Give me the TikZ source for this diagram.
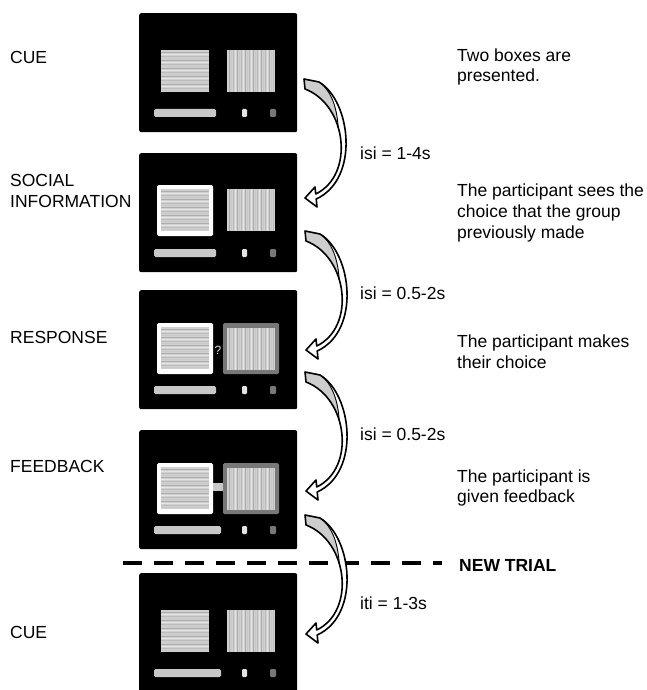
\documentclass[tikz,border=0pt]{standalone}
\usepackage{fontspec}
\setmainfont{Liberation Sans}
\usepackage{tikz}
\usetikzlibrary{positioning, calc}

\definecolor{patchBase}{RGB}{208,208,208}
\definecolor{stripe0}{RGB}{172,172,172}
\definecolor{stripe1}{RGB}{228,228,228}
\definecolor{stripe2}{RGB}{188,188,188}
\definecolor{stripe3}{RGB}{200,200,200}
\definecolor{barGray}{RGB}{200,200,200}
\definecolor{frameGray}{RGB}{120,120,120}
\definecolor{tailGray}{RGB}{205,205,205}

% striped patches, top-left corner in screen coordinates
\newcommand{\horizpatch}[2]{%
  \fill[patchBase] (#1,#2) rectangle ++(48,42);
  \foreach \k in {1,...,20}{%
    \pgfmathtruncatemacro{\g}{mod(\k*5+3,4)}%
    \draw[stripe\g, line width=0.8] (#1,#2+\k*2) -- ++(48,0);
  }%
}
\newcommand{\vertpatch}[2]{%
  \fill[patchBase] (#1,#2) rectangle ++(48,42);
  \foreach \k in {1,...,23}{%
    \pgfmathtruncatemacro{\g}{mod(\k*7+1,4)}%
    \draw[stripe\g, line width=0.8] (#1+\k*2,#2) -- ++(0,42);
  }%
}
% bar and two markers at the bottom of a screen
\newcommand{\screenbar}[1]{%
  \fill[barGray, rounded corners=1.5] (15,96) rectangle (#1,104);
  \fill[stripe1, rounded corners=1.2] (103,96) rectangle (108,104);
  \fill[frameGray, rounded corners=1.2] (131,96) rectangle (137,104);
}
% curved hollow arrow, tail at the origin
\newcommand{\arrowpath}{(0,0) -- (15,3) .. controls (47,22) and (56,100) .. (12.2,120)
  -- (13,128) -- (1,119) -- (11,108) -- (11.7,115)
  .. controls (51,96) and (43,26) .. (1,10) -- cycle}
\newcommand{\trialarrow}[1]{%
  \begin{scope}[shift={#1}]
    \fill[white] \arrowpath;
    \begin{scope}
      \clip \arrowpath;
      \fill[tailGray] (-10,-5) -- (0,0) -- (15,3) .. controls (28,12) and (33,30) .. (34.2,48.4)
        -- (-10,48.4) -- cycle;
    \end{scope}
    \draw[black, line width=0.9] (15,3) .. controls (28,12) and (33,30) .. (34.2,48.4);
    \draw[black, line width=1.6, line join=round] \arrowpath;
  \end{scope}%
}

\begin{document}
\begin{tikzpicture}[
  x=1pt, y=-1pt,
  screen/.style={rectangle, rounded corners=2pt, fill=black, anchor=north west,
                 minimum width=158, minimum height=119, inner sep=0},
  label/.style={font=\fontsize{17.5}{20.7}\selectfont, align=left, inner sep=0, anchor=west},
  qmark/.style={font=\fontsize{12}{12}\selectfont, text=stripe1, inner sep=0},
  trialline/.style={line width=4pt, dash pattern=on 19pt off 12pt}
]
  \useasboundingbox (0,0) rectangle (647,690);

  % Screens (central column)
  \node[screen] (s1) at (139,13) {};
  \node[screen] (s2) at (139,153) {};
  \node[screen] (s3) at (139,290) {};
  \node[screen] (s4) at (139,430) {};
  \node[screen] (s5) at (139,573) {};

  \begin{scope}[shift={(s1.north west)}]
    \horizpatch{22}{37}
    \vertpatch{88}{37}
    \screenbar{77}
  \end{scope}

  \begin{scope}[shift={(s2.north west)}]
    \fill[white, rounded corners=1.5] (18,32) rectangle (74,83);
    \horizpatch{22}{36}
    \vertpatch{88}{36}
    \screenbar{77}
  \end{scope}

  \begin{scope}[shift={(s3.north west)}]
    \fill[white, rounded corners=1.5] (18,33) rectangle (74,84);
    \fill[frameGray, rounded corners=1.5] (84,33) rectangle (140,84);
    \horizpatch{22}{37}
    \vertpatch{88}{38}
    \node[qmark] (ask) at (79,60) {?};
    \screenbar{77}
  \end{scope}

  \begin{scope}[shift={(s4.north west)}]
    \fill[white, rounded corners=1.5] (18,33) rectangle (74,84);
    \fill[frameGray, rounded corners=1.5] (84,33) rectangle (140,84);
    \fill[barGray] (74,53) rectangle (84,61);
    \horizpatch{22}{37}
    \vertpatch{88}{38}
    \screenbar{82}
  \end{scope}

  \begin{scope}[shift={(s5.north west)}]
    \horizpatch{22}{37}
    \vertpatch{88}{37}
    \screenbar{82}
  \end{scope}

  % Trial boundary
  \draw[trialline] (123,563) -- (442,563);
  \node[label, font=\fontsize{17.5}{20.7}\selectfont\bfseries] (newtrial) at (459,565) {NEW TRIAL};

  % Arrows between screens
  \trialarrow{(304,79)}
  \trialarrow{(305,231)}
  \trialarrow{(305,372)}
  \trialarrow{(305,515)}

  % Phase names (left column)
  \node[label] (cue1) at (10,57) {CUE};
  \node[label] (social) at (10,191) {SOCIAL\\INFORMATION};
  \node[label] (resp) at (10,337) {RESPONSE};
  \node[label] (feed) at (10,466) {FEEDBACK};
  \node[label] (cue2) at (10,632) {CUE};

  % Intervals
  \node[label] (isi1) at (360,153) {isi = 1-4s};
  \node[label] (isi2) at (360,293) {isi = 0.5-2s};
  \node[label] (isi3) at (360,434) {isi = 0.5-2s};
  \node[label] (iti) at (360,603) {iti = 1-3s};

  % Descriptions (right column)
  \node[label] (d1) at (457,67) {Two boxes are\\presented.};
  \node[label] (d2) at (457,213) {The participant sees the\\choice that the group\\previously made};
  \node[label] (d3) at (457,352) {The participant makes\\their choice};
  \node[label] (d4) at (457,488) {The participant is\\given feedback};
\end{tikzpicture}
\end{document}
